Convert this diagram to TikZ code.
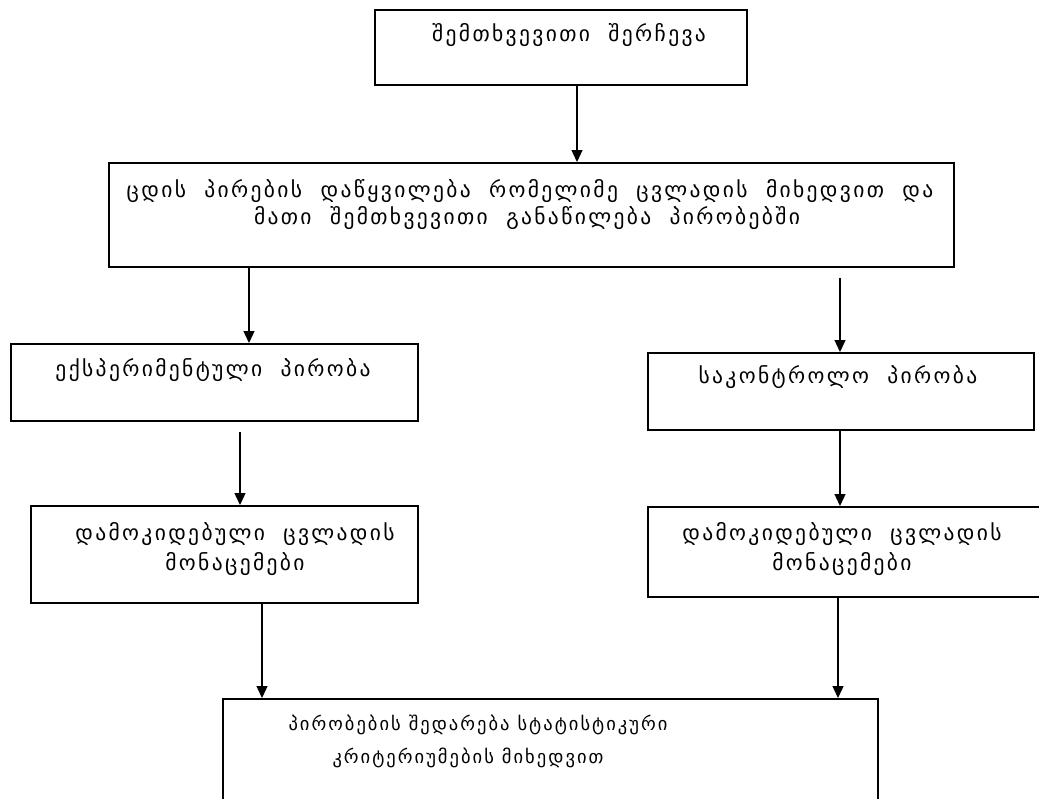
\documentclass[tikz,border=0pt]{standalone}
\usepackage{fontspec}
\setmainfont{DejaVu Sans}
\newfontfamily\geo[LetterSpace=11]{DejaVu Sans}
\usetikzlibrary{arrows.meta,calc}
\tikzset{
  box/.style={draw=black, line width=1.6pt, rectangle, inner sep=0pt, anchor=north west},
  txt/.style={font=\geo\fontsize{21.5}{21.5}\selectfont, align=center, inner sep=0pt},
  txtsm/.style={txt, font=\geo\fontsize{18.5}{18.5}\selectfont},
  arr/.style={draw=black, line width=1.3pt, -{Triangle[width=11pt,length=12pt]}}
}
\begin{document}
\begin{tikzpicture}[x=1pt,y=-1pt]
\useasboundingbox (0,0) rectangle (1039,798);
\clip (0,0) rectangle (1039,798);
\fill[white] (0,0) rectangle (1039,798);
% boxes
\node[box, minimum width=372pt, minimum height=75pt] (b1) at (374,9) {};
\node[box, minimum width=845pt, minimum height=104pt] (b2) at (108,162) {};
\node[box, minimum width=407pt, minimum height=77pt] (b3) at (10,343) {};
\node[box, minimum width=386pt, minimum height=77pt] (b4) at (647,352) {};
\node[box, minimum width=387pt, minimum height=97pt] (b5) at (30,505) {};
\node[box, minimum width=420pt, minimum height=90pt] (b6) at (647,506) {};
\node[box, minimum width=655pt, minimum height=130pt] (b7) at (222,698) {};
% texts
\node[txt] (t1) at (569,35) {შემთხვევითი\ \ შერჩევა};
\node[txt] (t2a) at (530,191) {ცდის\ \ პირების\ \ დაწყვილება\ \ რომელიმე\ \ ცვლადის\ \ მიხედვით\ \ და};
\node[txt] (t2b) at (527,218) {მათი\ \ შემთხვევითი\ \ განაწილება\ \ პირობებში};
\node[txt] (t3) at (213,370) {ექსპერიმენტული\ \ პირობა};
\node[txt] (t4) at (838,377) {საკონტროლო\ \ პირობა};
\node[txt] (t5a) at (235,534) {დამოკიდებული\ \ ცვლადის};
\node[txt] (t5b) at (235,564) {მონაცემები};
\node[txt] (t6a) at (842,534) {დამოკიდებული\ \ ცვლადის};
\node[txt] (t6b) at (842,564) {მონაცემები};
\node[txtsm] (t7a) at (478,725) {პირობების შედარება სტატისტიკური};
\node[txtsm] (t7b) at (468,758) {კრიტერიუმების მიხედვით};
% connectors
\draw[arr] (b1.south -| 577,0) -- (b2.north -| 577,0);
\draw[arr] (b2.south -| 249,0) -- (b3.north -| 249,0);
\coordinate (s4) at (840,278);
\draw[arr] (s4) -- (b4.north -| s4);
\coordinate (s5) at (240,432);
\draw[arr] (s5) -- (b5.north -| s5);
\draw[arr] (b4.south -| 840,0) -- (b6.north -| 840,0);
\draw[arr] (b5.south -| 262,0) -- (b7.north -| 262,0);
\draw[arr] (b6.south -| 838,0) -- (b7.north -| 838,0);
\end{tikzpicture}
\end{document}
